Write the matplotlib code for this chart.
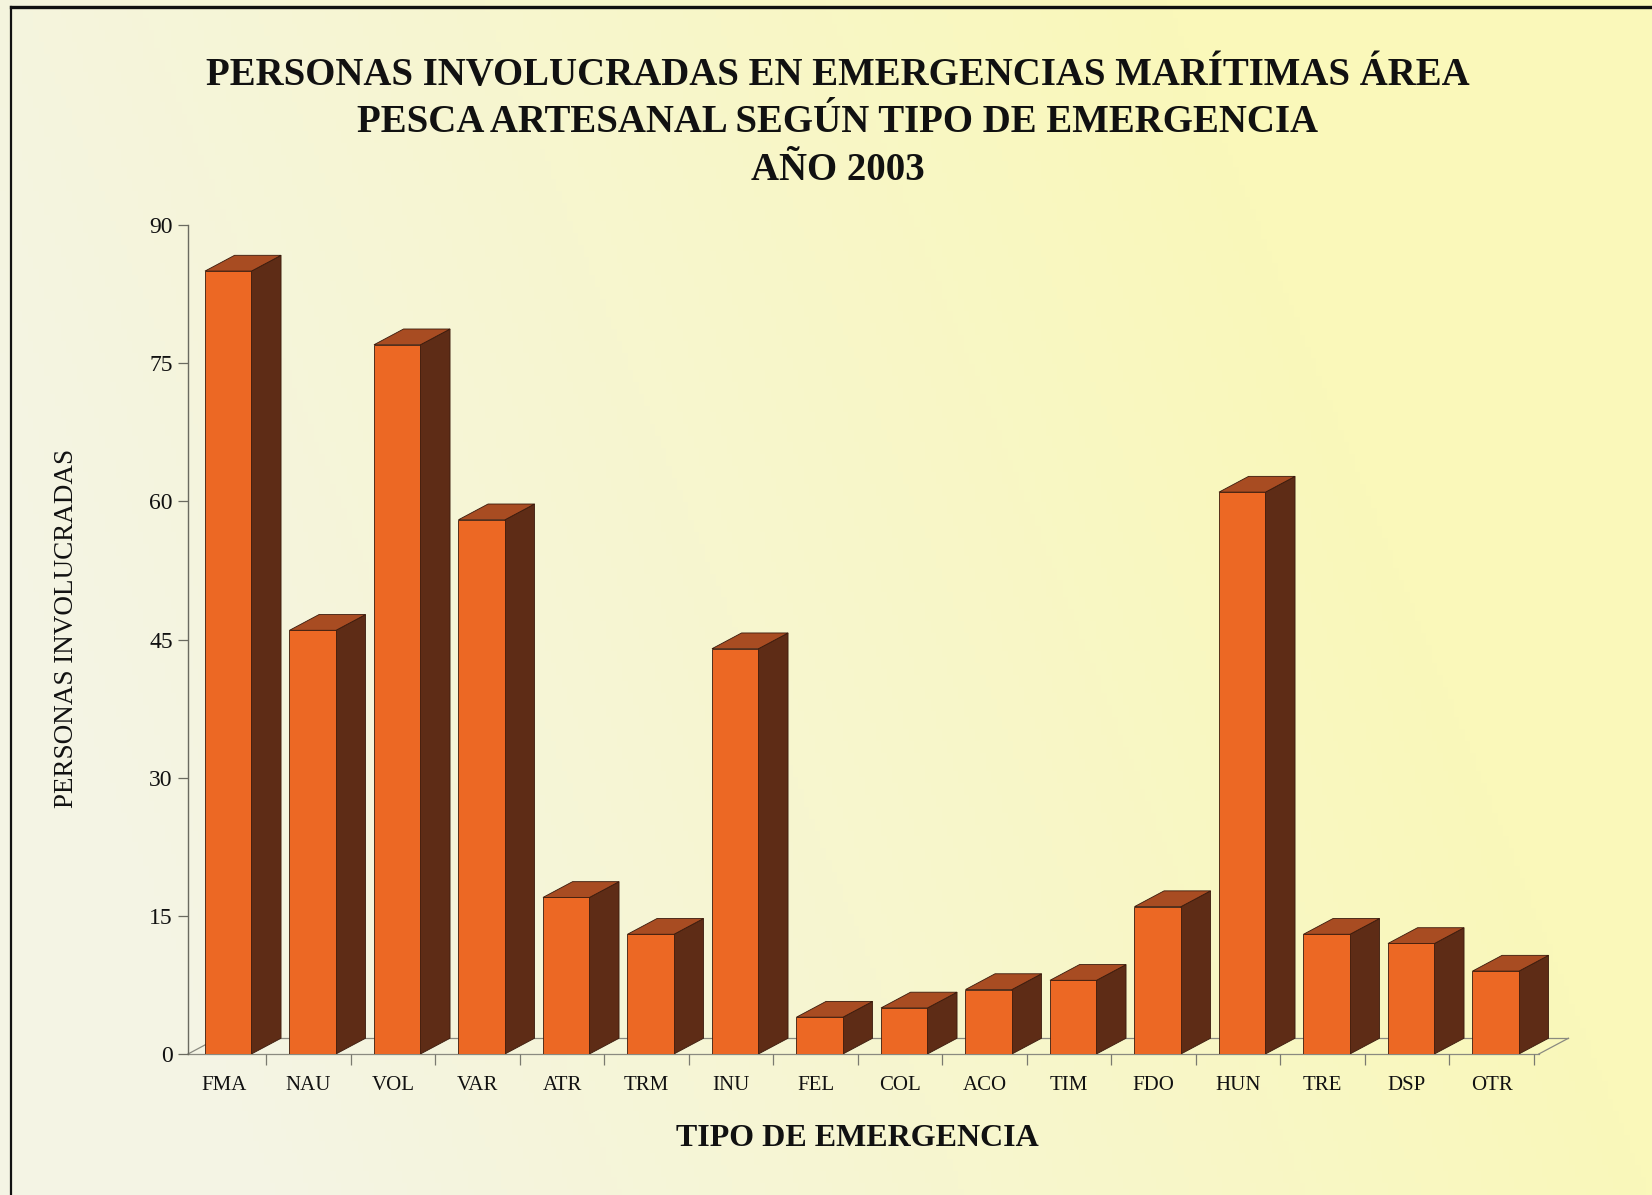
import numpy as np
import matplotlib
matplotlib.use("Agg")
import matplotlib.pyplot as plt
from matplotlib.patches import Polygon
from matplotlib.lines import Line2D

# ---- data ----
categories = ["FMA", "NAU", "VOL", "VAR", "ATR", "TRM", "INU", "FEL",
              "COL", "ACO", "TIM", "FDO", "HUN", "TRE", "DSP", "OTR"]
personas = [85, 46, 77, 58, 17, 13, 44, 4, 5, 7, 8, 16, 61, 13, 12, 9]
yticks = [0, 15, 30, 45, 60, 75, 90]
title_lines = ["PERSONAS INVOLUCRADAS EN EMERGENCIAS MARÍTIMAS ÁREA",
               "PESCA ARTESANAL SEGÚN TIPO DE EMERGENCIA",
               "AÑO 2003"]
ylabel = "PERSONAS INVOLUCRADAS"
xlabel = "TIPO DE EMERGENCIA"

W, H = 1652, 1195
DPI = 100
fig = plt.figure(figsize=(W / DPI, H / DPI), dpi=DPI)
FONT = ["Liberation Serif", "DejaVu Serif"]

# ---- background gradient ----
bg = fig.add_axes([0, 0, 1, 1], zorder=-10)
gx = np.linspace(0, 1, 300)[None, :]
gy = np.linspace(0, 1, 200)[:, None]
yellow = np.array([250, 248, 186]) / 255.0
white = np.array([244, 244, 228]) / 255.0
w = np.clip(0.85 - 1.2 * gx + 0.35 * gy, 0, 1)
img = yellow[None, None, :] * (1 - w[..., None]) + white[None, None, :] * w[..., None]
bg.imshow(img, aspect="auto", extent=[0, 1, 0, 1], origin="upper")
bg.set_axis_off()

# ---- main axes ----
px_axis_left = 188
px_cat0 = 224
px_per_cat = 84.5
xl = (px_axis_left - px_cat0) / px_per_cat
ax_right_px = 1590
xr_lim = xl + (ax_right_px - px_axis_left) / px_per_cat
y0_px, y90_px = 1054, 225
ax = fig.add_axes([px_axis_left / W, (H - y0_px) / H,
                   (ax_right_px - px_axis_left) / W, (y0_px - y90_px) / H])
ax.set_facecolor("none")
ax.set_xlim(xl, xr_lim)
ax.set_ylim(0, 90)

# 3D geometry
bw = 0.55
off = 0.05
dx = 0.35
dy = 1.71
front_c = "#EC6824"
side_c = "#5E2C16"
top_c = "#A84C22"
edge_c = "#3A1A0C"

# floor
floor_right = 15.56
fl_kw = dict(color="#8a8a80", lw=0.9, zorder=1, clip_on=False)
ax.plot([xl, floor_right], [0, 0], **fl_kw)
ax.plot([xl + dx, floor_right + dx], [dy, dy], **fl_kw)
ax.plot([floor_right, floor_right + dx], [0, dy], **fl_kw)
ax.plot([xl, xl + dx], [0, dy], **fl_kw)

for i, v in enumerate(personas):
    x0 = i + off - bw / 2
    x1 = x0 + bw
    front = Polygon([(x0, 0), (x1, 0), (x1, v), (x0, v)], closed=True,
                    facecolor=front_c, edgecolor=edge_c, lw=0.6, zorder=3)
    side = Polygon([(x1, 0), (x1 + dx, dy), (x1 + dx, v + dy), (x1, v)], closed=True,
                   facecolor=side_c, edgecolor=edge_c, lw=0.6, zorder=3)
    top = Polygon([(x0, v), (x1, v), (x1 + dx, v + dy), (x0 + dx, v + dy)], closed=True,
                  facecolor=top_c, edgecolor=edge_c, lw=0.6, zorder=3)
    for p in (side, top, front):
        ax.add_patch(p)

# spines / ticks
for s in ("top", "right", "bottom"):
    ax.spines[s].set_visible(False)
ax.spines["left"].set_color("#6a6a60")
ax.spines["left"].set_linewidth(1.0)
ax.set_yticks(yticks)
ax.set_yticklabels([str(t) for t in yticks], fontfamily=FONT, fontsize=17, color="#111111")
ax.tick_params(axis="y", direction="out", length=7, width=0.9, color="#6a6a60", pad=4)

ax.set_xticks(range(len(categories)))
ax.set_xticklabels(categories, fontfamily=FONT, fontsize=15, color="#111111")
ax.set_xticks([i + 0.5 for i in range(len(categories))], minor=True)
ax.tick_params(axis="x", which="major", length=0, pad=16)
ax.tick_params(axis="x", which="minor", direction="out", length=8, width=0.9, color="#7a7a70")

# labels and title
fig.text(67 / W, 1 - 628 / H, ylabel, rotation=90, ha="center", va="center",
         fontfamily=FONT, fontsize=19.5, color="#111111")
fig.text(857 / W, 1 - 1138 / H, xlabel, ha="center", va="center",
         fontfamily=FONT, fontsize=23, fontweight="bold", color="#111111")
for k, line in enumerate(title_lines):
    fig.text(838 / W, 1 - (75 + 48 * k) / H, line, ha="center", va="center",
             fontfamily=FONT, fontsize=28, fontweight="bold", color="#111111")

# frame
fig.add_artist(Line2D([11 / W, 1], [1 - 7 / H, 1 - 7 / H], transform=fig.transFigure,
                      color="#111111", lw=2.4))
fig.add_artist(Line2D([11 / W, 11 / W], [0, 1 - 7 / H], transform=fig.transFigure,
                      color="#111111", lw=1.6))

fig.savefig("out.png", dpi=DPI)
